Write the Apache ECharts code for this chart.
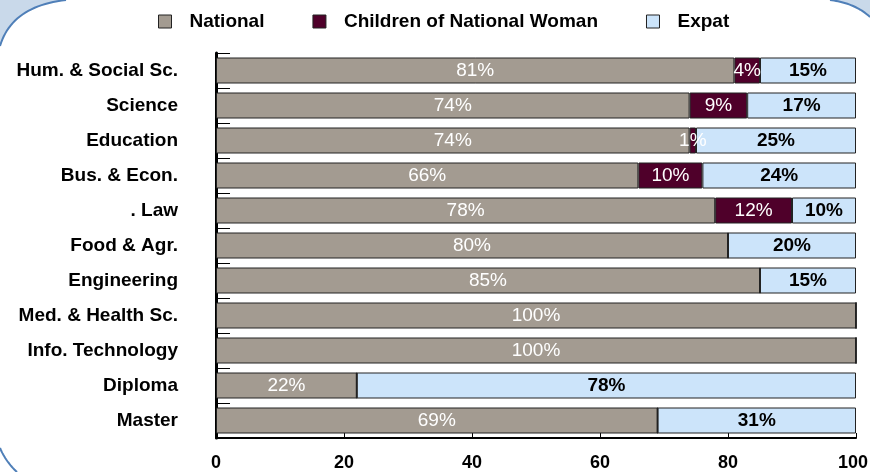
<!DOCTYPE html>
<html><head><meta charset="utf-8">
<script src="https://cdn.jsdelivr.net/npm/echarts@6/dist/echarts.min.js"></script>
<style>html,body{margin:0;padding:0;background:#fff}#c{width:870px;height:472px}</style>
</head><body><div id="c"></div>
<script>
const categories = ['Hum. & Social Sc.', 'Science', 'Education', 'Bus. & Econ.', '. Law', 'Food & Agr.', 'Engineering', 'Med. & Health Sc.', 'Info. Technology', 'Diploma', 'Master'];
const national = [81, 74, 74, 66, 78, 80, 85, 100, 100, 22, 69];
const childrenNW = [4, 9, 1, 10, 12, 0, 0, 0, 0, 0, 0];
const expat = [15, 17, 25, 24, 10, 20, 15, 0, 0, 78, 31];
const xTicks = [0, 20, 40, 60, 80, 100];

const FONT = '"Liberation Sans", Arial, sans-serif';
const FS = 19;
const chart = echarts.init(document.getElementById('c'));
const fmt = p => (p.value ? p.value + '%' : '');
const common = {
  type: 'bar', stack: 'all', barWidth: 26,
  itemStyle: { borderColor: '#222', borderWidth: 1 }
};
// decorative frame corners
function quad(p0, c, p1, n) {
  const pts = [];
  for (let i = 0; i <= n; i++) {
    const t = i / n, u = 1 - t;
    pts.push([u * u * p0[0] + 2 * u * t * c[0] + t * t * p1[0], u * u * p0[1] + 2 * u * t * c[1] + t * t * p1[1]]);
  }
  return pts;
}
const tl = quad([0, 46], [12, 6], [66, 0], 24);
const tr = quad([830, 0], [855, 3], [870, 17], 24);
const bl = quad([0, 448], [6, 462], [17, 472], 16);
const BLUE = '#4f7fb8', LIGHT = '#c9d9ea';
chart.setOption({
  animation: false,
  textStyle: { fontFamily: FONT },
  graphic: [
    { type: 'polygon', shape: { points: [[0, 0]].concat(tl) }, style: { fill: LIGHT }, z: -1 },
    { type: 'polyline', shape: { points: tl }, style: { stroke: BLUE, lineWidth: 2, fill: null } },
    { type: 'polygon', shape: { points: tr.concat([[870, 0]]) }, style: { fill: LIGHT }, z: -1 },
    { type: 'polyline', shape: { points: tr }, style: { stroke: BLUE, lineWidth: 2, fill: null } },
    { type: 'polyline', shape: { points: bl }, style: { stroke: BLUE, lineWidth: 2, fill: null } }
  ],
  legend: {
    left: 158, top: 12, padding: 0, itemWidth: 13, itemHeight: 13, itemGap: 48,
    icon: 'rect',
    itemStyle: { borderColor: '#222', borderWidth: 1 },
    textStyle: { fontFamily: FONT, fontSize: FS, fontWeight: 'bold', color: '#000', padding: [0, 0, 0, 13] },
    data: ['National', 'Children of National Woman', 'Expat']
  },
  grid: { left: 216, right: 14, top: 53, bottom: 34, containLabel: false, outerBoundsMode: 'none' },
  xAxis: {
    type: 'value', min: 0, max: 100, interval: 20,
    axisLine: { show: true, lineStyle: { color: '#000', width: 2 } },
    axisTick: { show: true, inside: true, length: 5, lineStyle: { color: '#000' } },
    splitLine: { show: false },
    axisLabel: { fontFamily: FONT, fontSize: 18, fontWeight: 'bold', color: '#000', margin: 16,
      formatter: v => (xTicks.includes(v) ? (v === 100 ? '{r|' + v + '}' : String(v)) : ''),
      rich: { r: { fontFamily: FONT, fontSize: 18, fontWeight: 'bold', color: '#000', padding: [0, 6, 0, 0] } } }
  },
  yAxis: {
    type: 'category', data: categories, inverse: true,
    axisLine: { show: true, lineStyle: { color: '#000', width: 3 } },
    axisTick: { show: true, inside: true, length: 14, lineStyle: { color: '#000' } },
    axisLabel: { fontFamily: FONT, fontSize: FS, fontWeight: 'bold', color: '#000', margin: 38 }
  },
  series: [
    Object.assign({}, common, { name: 'National', data: national, itemStyle: Object.assign({}, common.itemStyle, { color: '#a39b91' }),
      label: { show: true, position: 'inside', color: '#fff', fontSize: FS, fontFamily: FONT, formatter: fmt } }),
    Object.assign({}, common, { name: 'Children of National Woman', data: childrenNW, itemStyle: Object.assign({}, common.itemStyle, { color: '#4f002a' }),
      label: { show: true, position: 'inside', color: '#fff', fontSize: FS, fontFamily: FONT, formatter: fmt } }),
    Object.assign({}, common, { name: 'Expat', data: expat, itemStyle: Object.assign({}, common.itemStyle, { color: '#cce4fa' }),
      label: { show: true, position: 'inside', color: '#000', fontSize: FS, fontWeight: 'bold', fontFamily: FONT, formatter: fmt } })
  ]
});
</script></body></html>
